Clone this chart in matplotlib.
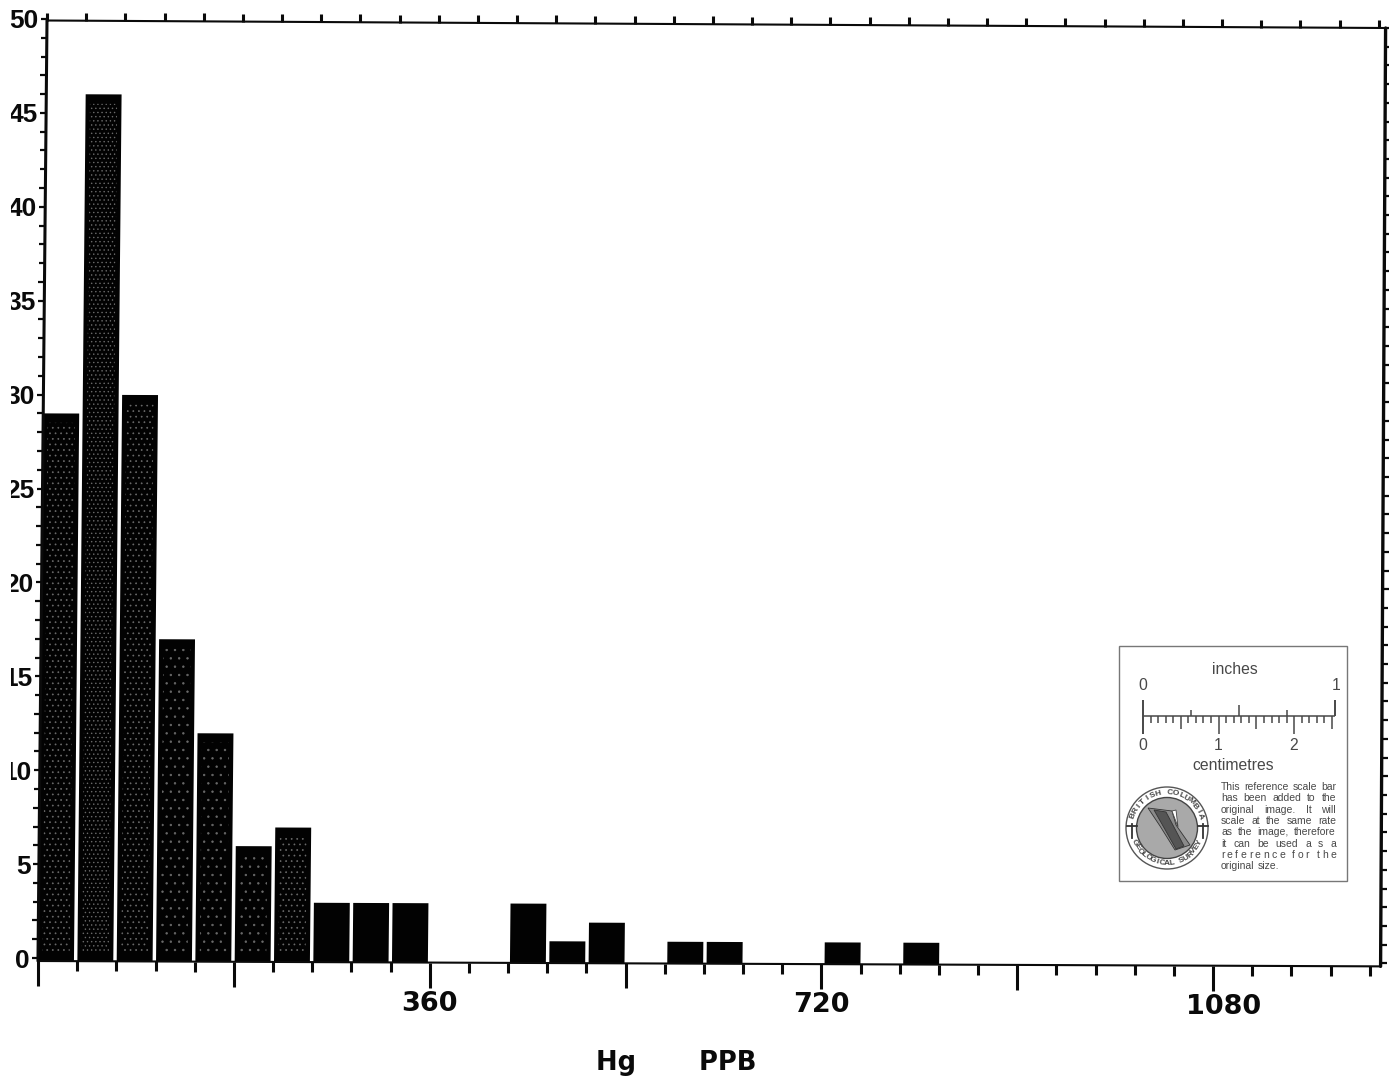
import numpy as np
import matplotlib
matplotlib.use("Agg")
import matplotlib.pyplot as plt
from matplotlib.patches import Circle, Rectangle, Polygon
from matplotlib.transforms import Affine2D, Bbox

# ---------- data ----------
bin_width = 36
counts = [29, 46, 30, 17, 12, 6, 7, 3, 3, 3, 0, 0, 3, 1, 2, 0, 1, 1, 0, 0, 1, 0, 1]
x_major = list(range(0, 1225, 180))
x_minor = list(range(0, 1225, 36))
x_labels = {360: "360", 720: "720", 1080: "1080"}
y_major = list(range(0, 51, 5))
y_minor = list(range(0, 51))
x_title = "Hg       PPB"
para_lines = ["This reference scale bar", "has been added to the", "original image. It will",
              "scale at the same rate", "as the image, therefore", "it can be used a s a",
              "r e f e r e n c e   f o r   t h e", "original size."]

# speck texture per bar (scan of a dot-matrix print)
speck_hatch = ["...", "....", "...", "..", "..", "..", "...", None, None, None, None, None,
               None, None, None, None, None, None, None, None, None, None, None]

W, H = 1389, 1076
fig = plt.figure(figsize=(W / 100, H / 100), dpi=100, facecolor="white")
PX = 1.088; PY = 18.78
x0, y0 = 38, 958
xmax = 1234
BASE = -3 / PY   # the printed bars and axis line sit 3 px under the zero tick
ax = fig.add_axes([x0 / W, (H - y0) / H, xmax * PX / W, 50 * PY / H])
ax.set_xlim(0, xmax); ax.set_ylim(0, 50)
for s in ax.spines.values():
    s.set_visible(False)

# the scanned page is slightly sheared
SHX = 0.18   # px to the right per count
SHY = 0.0040 # px downward per px to the right
skew = Affine2D.from_values(1, -SHY * PX / PY, SHX / PX, 1, 0, 0)

plt.rcParams["hatch.linewidth"] = 0.5
centers = [bin_width * (i + 0.5) * 1.004 - 1.5 for i in range(len(counts))]
for c, v, h in zip(centers, counts, speck_hatch):
    if v == 0:
        continue
    ax.bar(c, v - BASE, bottom=BASE, width=33, color="#020202", linewidth=0,
           transform=skew + ax.transData, clip_on=False, zorder=2)
    if h:
        ax.bar(c, v - BASE - 1, bottom=BASE + 0.5, width=25, facecolor="none", edgecolor="#6a6a6a",
               hatch=h, linewidth=0, transform=skew + ax.transData, clip_on=False, zorder=3)

# frame
frame = dict(color="#0a0a0a", clip_on=False, solid_capstyle="round", zorder=4)
bot_r = BASE - SHY * xmax * PX / PY
top_l, top_r = 50 - 1.5 / PY, 50 - 9 / PY
ax.plot([BASE * SHX / PX, 50 * SHX / PX], [BASE, top_l], lw=2.2, **frame)          # left
ax.plot([0, xmax], [BASE, bot_r], lw=1.5, **frame)                                 # bottom
ax.plot([50 * SHX / PX, xmax + 5 / PX], [top_l, top_r], lw=1.5, **frame)           # top
ax.plot([xmax, xmax + 5 / PX], [bot_r, top_r], lw=2.4, **frame)                    # right

# axes ticks
ax.set_xticks(x_major)
ax.set_xticks(x_minor, minor=True)
ax.set_xticklabels([x_labels.get(v, "") for v in x_major])
ax.set_yticks(y_major)
ax.set_yticks(y_minor, minor=True)
ax.tick_params(axis="x", which="major", length=18, width=2.2, color="#0a0a0a", top=True,
               pad=4.5, labelsize=19.5, labelcolor="#0a0a0a")
ax.tick_params(axis="x", which="minor", length=7.5, width=2.2, color="#0a0a0a", top=True)
ax.tick_params(axis="y", which="both", length=4.5, width=1.6, color="#0a0a0a", right=True,
               pad=1.5, labelsize=19, labelcolor="#0a0a0a")


def shift(line, dx, dy):
    line.set_transform(line.get_transform() + Affine2D().translate(dx, dy))


for locs, ticks in ((ax.xaxis.get_majorticklocs(), ax.xaxis.get_major_ticks()),
                    (ax.xaxis.get_minorticklocs(), ax.xaxis.get_minor_ticks())):
    for v, t in zip(locs, ticks):
        d = -SHY * v * PX
        shift(t.tick1line, 0, d - 3)
        shift(t.tick2line, 50 * SHX, -0.0058 * v * PX - 1.5)
        t.tick2line.set_markersize(5.5)
        shift(t.label1, 11 if v == 1080 else 0, d)
        t.label1.set_fontfamily("DejaVu Sans")
        t.label1.set_fontweight("bold")

clip = Bbox([[11, 0], [200, H]])
for locs, ticks in ((ax.yaxis.get_majorticklocs(), ax.yaxis.get_major_ticks()),
                    (ax.yaxis.get_minorticklocs(), ax.yaxis.get_minor_ticks())):
    for v, t in zip(locs, ticks):
        shift(t.tick1line, v * SHX, 0)
        shift(t.tick2line, v * 0.1, -SHY * xmax * PX * (1 - v / 50) - 9 * v / 50)
        shift(t.label1, v * SHX, 0)
        t.label1.set_fontfamily("Liberation Sans")
        t.label1.set_fontweight("bold")
        t.label1.set_clip_box(clip)
        t.label1.set_clip_on(True)

ax.set_xlabel(x_title, x=(676 - x0) / (xmax * PX), labelpad=21.5, fontsize=18.5,
              fontweight="bold", fontfamily="DejaVu Sans", color="#0a0a0a")

# ---------- reference scale-bar inset, in page pixels ----------
ov = fig.add_axes([0, 0, 1, 1], facecolor="none")
ov.set_xlim(0, W); ov.set_ylim(H, 0); ov.axis("off")
G = "#484848"
ov.add_patch(Rectangle((1119, 646), 228, 235, fc="white", ec="#777777", lw=1.0))


def seg(x1, y1, x2, y2, lw=1.1):
    ov.plot([x1, x2], [y1, y2], color=G, lw=lw, solid_capstyle="butt")


seg(1143, 716, 1335, 716)
seg(1143, 700, 1143, 734, 1.4)
seg(1335, 700, 1335, 716, 1.4)
for xi, top in ((1191, 710), (1239, 705), (1287, 710)):
    seg(xi, top, xi, 716)
CM = 75.6
for mm in range(1, 26):
    xi = 1143 + mm * CM / 10
    if mm % 10 == 0:
        seg(xi, 716, xi, 734)
    elif mm % 5 == 0:
        seg(xi, 716, xi, 729)
    else:
        seg(xi, 716, xi, 723)
font = dict(family="Liberation Sans", color=G, ha="center", va="center")
ov.text(1235, 669.5, "inches", fontsize=11.3, **font)
ov.text(1143, 686, "0", fontsize=11.3, **font)
ov.text(1336, 686, "1", fontsize=11.3, **font)
ov.text(1143, 746, "0", fontsize=11.3, **font)
ov.text(1218, 746, "1", fontsize=11.3, **font)
ov.text(1294, 746, "2", fontsize=11.3, **font)
ov.text(1233, 765, "centimetres", fontsize=11.3, **font)

# justified note
rend = fig.canvas.get_renderer()
LEFT, RIGHT = 1221, 1336
for i, line in enumerate(para_lines):
    yy = 787 + i * 11.33
    words = line.split(" ")
    arts = [ov.text(0, yy, w, fontsize=7.5, family="Liberation Sans", color=G,
                    ha="left", va="center") if w else None for w in words]
    widths = [a.get_window_extent(rend).width if a else 0 for a in arts]
    if i == len(para_lines) - 1:
        gap = 2.8
    else:
        gap = (RIGHT - LEFT - sum(widths)) / (len(words) - 1)
    xp = LEFT
    for a, w_ in zip(arts, widths):
        if a:
            a.set_x(xp)
        xp += w_ + gap

# survey emblem
cx, cy = 1167, 828
ov.add_patch(Circle((cx, cy), 41, fc="white", ec="#555555", lw=1.0))
ov.add_patch(Circle((cx, cy), 30.5, fc="#a9a9a9", ec="#444444", lw=1.0))
ov.add_patch(Polygon([(1148, 808), (1172, 811), (1176, 825), (1190, 845), (1175, 850), (1160, 826)],
                     fc="#8a8a8a", ec="#333333", lw=0.6))
ov.add_patch(Polygon([(1154, 810), (1166, 812), (1184, 846), (1176, 849)],
                     fc="#555555", ec="#333333", lw=0.6))
ov.add_patch(Polygon([(1172, 811), (1176, 810), (1178, 827)], fc="white", ec="#444444", lw=0.6))
for hx in (1132, 1203):
    ov.plot([hx, hx], [824, 838], color="#333333", lw=1.3)
    ov.plot([hx - 5, hx + 5], [826, 826], color="#333333", lw=1.3)


def arc_text(txt, span, radius, top=True):
    n = len(txt)
    for k, ch in enumerate(txt):
        f = (k + 0.5) / n - 0.5
        ang = np.radians(f * span)
        if top:
            px, py = cx + radius * np.sin(ang), cy - radius * np.cos(ang)
        else:
            px, py = cx - radius * np.sin(ang), cy + radius * np.cos(ang)
        ov.text(px, py, ch, fontsize=6.0, family="Liberation Sans", fontweight="bold",
                color="#444444", ha="center", va="center", rotation=-np.degrees(ang),
                rotation_mode="anchor")


arc_text("BRITISH COLUMBIA", 150, 35.5, True)
arc_text("GEOLOGICAL SURVEY", -140, 35.5, False)

fig.savefig("out.png", dpi=100, facecolor="white")
